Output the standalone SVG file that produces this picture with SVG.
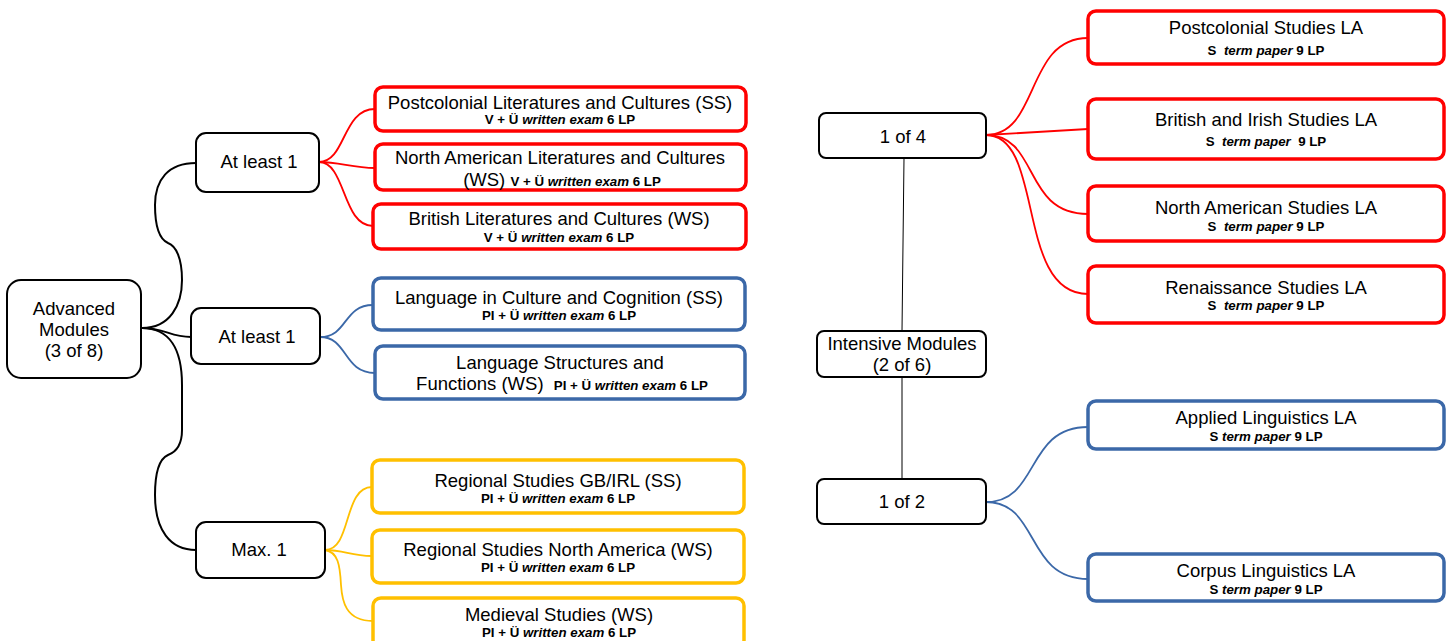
<svg xmlns="http://www.w3.org/2000/svg" width="1454" height="641" viewBox="0 0 1454 641">
<style>
.t{font-family:"Liberation Sans",Arial,sans-serif;font-size:18.5px;fill:#000;text-anchor:middle}
.s{font-size:13.3px;font-weight:bold}
.i{font-style:italic}
.n{fill:#fff;stroke:#000;stroke-width:2}
.r{fill:#fff;stroke:#ff0000;stroke-width:3.5}
.b{fill:#fff;stroke:#3b68a8;stroke-width:3.5}
.y{fill:#fff;stroke:#ffc000;stroke-width:3.5}
.ck{fill:none;stroke:#000;stroke-width:2}
.cr{fill:none;stroke:#ff0000;stroke-width:1.8}
.cb{fill:none;stroke:#3b68a8;stroke-width:1.8}
.cy{fill:none;stroke:#ffc000;stroke-width:1.8}
.th{fill:none;stroke:#000;stroke-width:1}
</style>
<rect width="1454" height="641" fill="#fff"/>
<g id="connectors">
<path class="ck" d="M142,328 C170,328 182,305 182,280 C182,258 176,246 168,243 C159,239 155,225 155,205 C155,180 168,163 196,163"/>
<path class="ck" d="M142,328 C165,328 170,337 191,337"/>
<path class="ck" d="M142,328 C170,328 182,350 182,385 L182,430 C182,445 176,452 168,455 C159,459 155,472 155,495 C155,530 170,550 196,550"/>
<path class="cr" d="M319,162 C346,162 342,109 375,109"/>
<path class="cr" d="M319,162 C340,162 352,168 375,168"/>
<path class="cr" d="M319,162 C346,162 342,226 373,226"/>
<path class="cb" d="M320,337 C348,337 343,305 373,305"/>
<path class="cb" d="M320,337 C348,337 343,373 375,373"/>
<path class="cy" d="M325,550 C352,550 343,487 372,487"/>
<path class="cy" d="M325,550 C345,550 350,556 372,556"/>
<path class="cy" d="M325,550 C338,552 340,565 341,585 C342,600 345,621 373,621"/>
<path class="th" d="M904,158 L902,331"/>
<path class="th" d="M902,377 L902,479"/>
<path class="cr" d="M986,135 C1040,135 1025,38 1088,38"/>
<path class="cr" d="M986,135 L1088,129"/>
<path class="cr" d="M986,135 C1040,135 1022,214 1088,214"/>
<path class="cr" d="M986,135 C1045,135 1015,294 1088,294"/>
<path class="cb" d="M986,502 C1040,502 1025,427 1088,427"/>
<path class="cb" d="M986,502 C1040,502 1025,579 1088,579"/>
</g>
<g id="advanced">
<rect class="n" x="7" y="280" width="134" height="98" rx="14"/>
<text class="t" x="74" y="315">Advanced</text>
<text class="t" x="74" y="336">Modules</text>
<text class="t" x="74" y="357">(3 of 8)</text>
</g>
<g id="atleast1a">
<rect class="n" x="196" y="133" width="123" height="59" rx="10"/>
<text class="t" x="259" y="168">At least 1</text>
</g>
<g id="atleast1b">
<rect class="n" x="191" y="308" width="129" height="56" rx="10"/>
<text class="t" x="257" y="343">At least 1</text>
</g>
<g id="max1">
<rect class="n" x="196" y="522" width="129" height="56" rx="10"/>
<text class="t" x="259" y="556">Max. 1</text>
</g>
<g id="postlit">
<rect class="r" x="375" y="87" width="371" height="44" rx="8"/>
<text class="t" x="560" y="109">Postcolonial Literatures and Cultures (SS)</text>
<text class="t s" x="560" y="124">V + Ü <tspan class="i">written exam</tspan> 6 LP</text>
</g>
<g id="namlit">
<rect class="r" x="375" y="144" width="371" height="46" rx="8"/>
<text class="t" x="560" y="164">North American Literatures and Cultures</text>
<text class="t" x="562" y="186">(WS) <tspan class="s">V + Ü </tspan><tspan class="s i">written exam</tspan><tspan class="s"> 6 LP</tspan></text>
</g>
<g id="britlit">
<rect class="r" x="373" y="204" width="373" height="45" rx="8"/>
<text class="t" x="559" y="225">British Literatures and Cultures (WS)</text>
<text class="t s" x="559" y="242">V + Ü <tspan class="i">written exam</tspan> 6 LP</text>
</g>
<g id="langcult">
<rect class="b" x="373" y="278" width="372" height="52" rx="8"/>
<text class="t" x="559" y="304">Language in Culture and Cognition (SS)</text>
<text class="t s" x="559" y="320">PI + Ü <tspan class="i">written exam</tspan> 6 LP</text>
</g>
<g id="langstruct">
<rect class="b" x="375" y="346" width="370" height="53" rx="8"/>
<text class="t" x="560" y="369">Language Structures and</text>
<text class="t" x="562" y="390" xml:space="preserve">Functions (WS)  <tspan class="s">PI + Ü </tspan><tspan class="s i">written exam</tspan><tspan class="s"> 6 LP</tspan></text>
</g>
<g id="reggb">
<rect class="y" x="372" y="460" width="372" height="53" rx="8"/>
<text class="t" x="558" y="487">Regional Studies GB/IRL (SS)</text>
<text class="t s" x="558" y="503">PI + Ü <tspan class="i">written exam</tspan> 6 LP</text>
</g>
<g id="regna">
<rect class="y" x="372" y="530" width="372" height="53" rx="8"/>
<text class="t" x="558" y="556">Regional Studies North America (WS)</text>
<text class="t s" x="558" y="572">PI + Ü <tspan class="i">written exam</tspan> 6 LP</text>
</g>
<g id="medieval">
<rect class="y" x="373" y="598" width="371" height="50" rx="8"/>
<text class="t" x="559" y="621">Medieval Studies (WS)</text>
<text class="t s" x="559" y="637">PI + Ü <tspan class="i">written exam</tspan> 6 LP</text>
</g>
<g id="oneof4">
<rect class="n" x="819" y="113" width="167" height="45" rx="7"/>
<text class="t" x="903" y="143">1 of 4</text>
</g>
<g id="intensive">
<rect class="n" x="817" y="331" width="169" height="46" rx="7"/>
<text class="t" x="902" y="350">Intensive Modules</text>
<text class="t" x="902" y="371">(2 of 6)</text>
</g>
<g id="oneof2">
<rect class="n" x="817" y="479" width="169" height="45" rx="7"/>
<text class="t" x="902" y="508">1 of 2</text>
</g>
<g id="postla">
<rect class="r" x="1088" y="11" width="356" height="53" rx="8"/>
<text class="t" x="1266" y="34">Postcolonial Studies LA</text>
<text class="t s" x="1266" y="55" xml:space="preserve">S  <tspan class="i">term paper</tspan> 9 LP</text>
</g>
<g id="britla">
<rect class="r" x="1088" y="99" width="356" height="60" rx="8"/>
<text class="t" x="1266" y="126">British and Irish Studies LA</text>
<text class="t s" x="1266" y="146" xml:space="preserve">S  <tspan class="i">term paper</tspan>  9 LP</text>
</g>
<g id="namla">
<rect class="r" x="1088" y="186" width="356" height="55" rx="8"/>
<text class="t" x="1266" y="214">North American Studies LA</text>
<text class="t s" x="1266" y="231" xml:space="preserve">S  <tspan class="i">term paper</tspan> 9 LP</text>
</g>
<g id="renla">
<rect class="r" x="1088" y="266" width="356" height="57" rx="8"/>
<text class="t" x="1266" y="294">Renaissance Studies LA</text>
<text class="t s" x="1266" y="310" xml:space="preserve">S  <tspan class="i">term paper</tspan> 9 LP</text>
</g>
<g id="appla">
<rect class="b" x="1088" y="401" width="356" height="48" rx="8"/>
<text class="t" x="1266" y="424">Applied Linguistics LA</text>
<text class="t s" x="1266" y="441">S <tspan class="i">term paper</tspan> 9 LP</text>
</g>
<g id="corpla">
<rect class="b" x="1088" y="554" width="356" height="47" rx="8"/>
<text class="t" x="1266" y="577">Corpus Linguistics LA</text>
<text class="t s" x="1266" y="594">S <tspan class="i">term paper</tspan> 9 LP</text>
</g>
</svg>
